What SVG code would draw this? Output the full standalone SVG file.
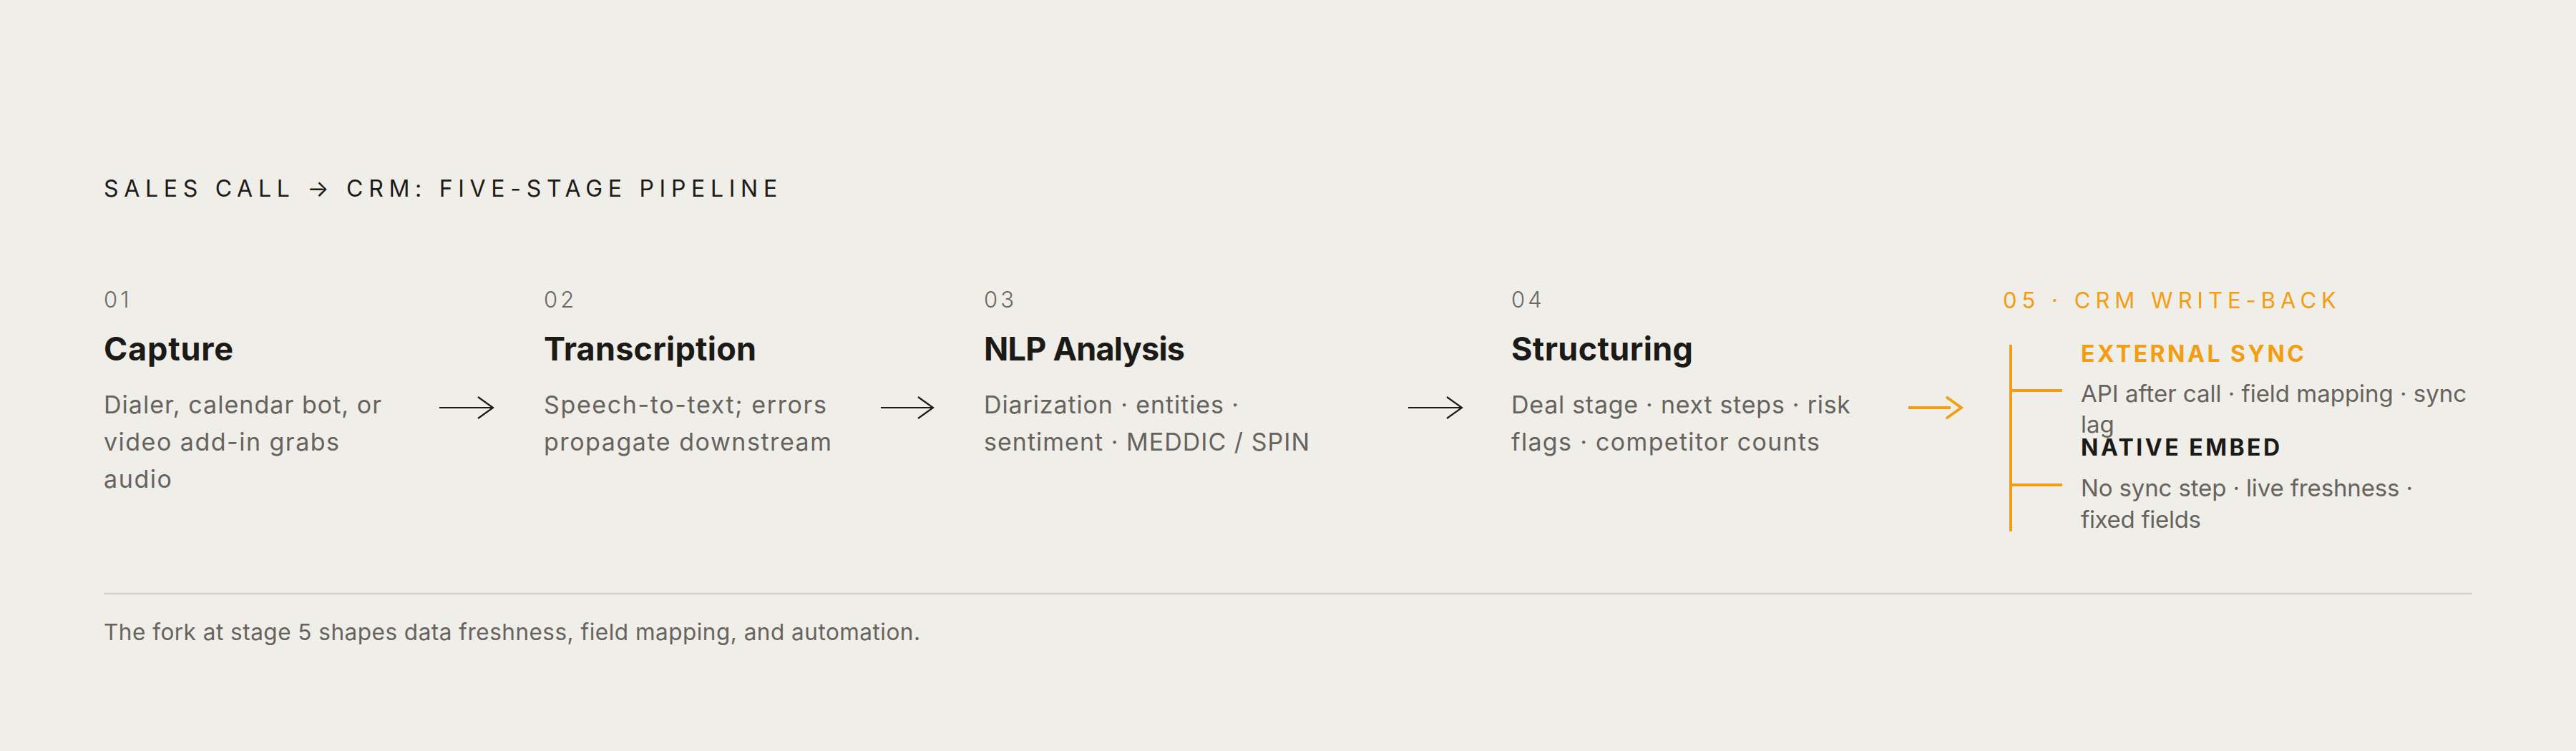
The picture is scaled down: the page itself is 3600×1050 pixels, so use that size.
<svg xmlns="http://www.w3.org/2000/svg" width="3600" height="1050" viewBox="0 0 3600 1050">
  <style>
    text { font-family: Inter, "Liberation Sans", sans-serif; }
    .title { font-size: 32px; font-weight: 400; fill: #1c1a17; letter-spacing: 7.7px; }
    .num { font-size: 31px; font-weight: 300; fill: #6b6964; letter-spacing: 4px; }
    .num5 { font-size: 31px; font-weight: 400; fill: #f29d12; letter-spacing: 7px; }
    .head { font-size: 45px; font-weight: 700; fill: #1c1a17; }
    .desc { font-size: 34px; font-weight: 400; fill: #66635e; }
    .det { font-size: 33px; font-weight: 400; fill: #66635e; }
    .sub { font-size: 32px; font-weight: 700; letter-spacing: 3.5px; }
    .foot { font-size: 31.5px; font-weight: 400; fill: #66635e; }
    .arrow { fill: none; stroke: #1c1a17; stroke-width: 2.2; }
    .arrow-o { fill: none; stroke: #f29d12; stroke-width: 3.8; }
    .fork { fill: none; stroke: #f29d12; stroke-width: 4; }
  </style>
  <rect x="0" y="0" width="3600" height="1050" fill="#f0eee9"/>

  <text id="title" class="title" x="145" y="275">SALES CALL → CRM: FIVE-STAGE PIPELINE</text>

  <g id="stage1">
    <text class="num" x="145" y="430">01</text>
    <text class="head" x="145" y="504" textLength="181">Capture</text>
    <text class="desc" x="145" y="578" textLength="388">Dialer, calendar bot, or</text>
    <text class="desc" x="145" y="630" textLength="329">video add-in grabs</text>
    <text class="desc" x="145" y="682" textLength="95">audio</text>
  </g>

  <g id="stage2">
    <text class="num" x="760" y="430">02</text>
    <text class="head" x="760" y="504" textLength="297">Transcription</text>
    <text class="desc" x="760" y="578" textLength="395">Speech-to-text; errors</text>
    <text class="desc" x="760" y="630" textLength="402">propagate downstream</text>
  </g>

  <g id="stage3">
    <text class="num" x="1375" y="430">03</text>
    <text class="head" x="1375" y="504" textLength="281">NLP Analysis</text>
    <text class="desc" x="1375" y="578" textLength="356">Diarization · entities ·</text>
    <text class="desc" x="1375" y="630" textLength="455">sentiment · MEDDIC / SPIN</text>
  </g>

  <g id="stage4">
    <text class="num" x="2112" y="430">04</text>
    <text class="head" x="2112" y="504" textLength="254">Structuring</text>
    <text class="desc" x="2112" y="578" textLength="474">Deal stage · next steps · risk</text>
    <text class="desc" x="2112" y="630" textLength="431">flags · competitor counts</text>
  </g>

  <g id="stage5">
    <text class="num5" x="2799" y="431">05 · CRM WRITE-BACK</text>
    <path class="fork" d="M2810 482 V743 M2810 546 H2882 M2810 678 H2882"/>
    <g id="external-sync">
      <text class="sub" x="2908" y="506" fill="#f29d12">EXTERNAL SYNC</text>
      <text class="det" x="2908" y="562" textLength="539">API after call · field mapping · sync</text>
      <text class="det" x="2908" y="605">lag</text>
    </g>
    <g id="native-embed">
      <text class="sub" x="2908" y="637" fill="#1c1a17">NATIVE EMBED</text>
      <text class="det" x="2908" y="694" textLength="464">No sync step · live freshness ·</text>
      <text class="det" x="2908" y="738" textLength="168">fixed fields</text>
    </g>
  </g>

  <g id="connectors">
    <path class="arrow" d="M614 570 H687 M668 555 L689 570 L668 585"/>
    <path class="arrow" d="M1231 570 H1302 M1283 555 L1304 570 L1283 585"/>
    <path class="arrow" d="M1968 570 H2041 M2022 555 L2043 570 L2022 585"/>
    <path class="arrow-o" d="M2667 570 H2726 M2720 555 L2741 570 L2720 585"/>
  </g>

  <line id="rule" x1="145" y1="830" x2="3455" y2="830" stroke="#d2cfc8" stroke-width="2.5"/>
  <text id="footer" class="foot" x="145" y="895" textLength="1141">The fork at stage 5 shapes data freshness, field mapping, and automation.</text>
</svg>
